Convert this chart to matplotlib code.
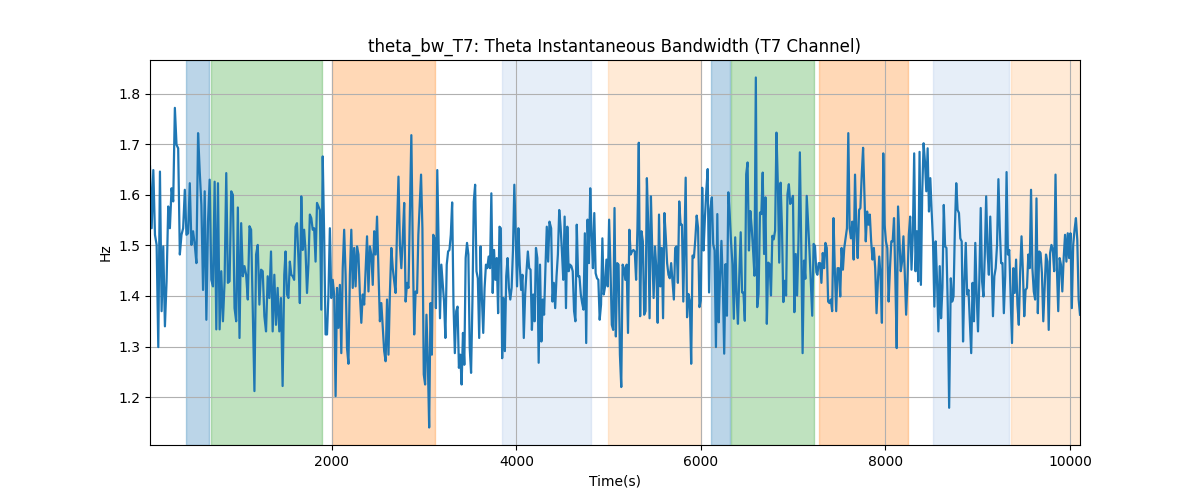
import numpy as np
import matplotlib
matplotlib.use("Agg")
import matplotlib.pyplot as plt

# Segment values (Hz), in time order
seg_a = [1.656, 1.534, 1.649, 1.521, 1.501, 1.299, 1.646, 1.370, 1.498, 1.340,
         1.429, 1.577, 1.534, 1.613, 1.587, 1.772, 1.699, 1.692, 1.482, 1.521,
         1.534, 1.610, 1.521, 1.524, 1.623, 1.501, 1.528, 1.501, 1.465, 1.722,
         1.646, 1.580, 1.412, 1.607, 1.353, 1.547, 1.630, 1.432, 1.419, 1.626,
         1.334, 1.623, 1.334, 1.449, 1.350, 1.429, 1.643, 1.426, 1.429, 1.607,
         1.600, 1.376, 1.350, 1.575, 1.317, 1.544, 1.439, 1.459, 1.442, 1.393,
         1.538, 1.531, 1.376, 1.212, 1.482, 1.501, 1.383, 1.452, 1.449, 1.360,
         1.330, 1.439, 1.396, 1.488, 1.330, 1.442, 1.343, 1.416, 1.330, 1.396,
         1.222, 1.442]
seg_b = [1.488, 1.403, 1.396, 1.468, 1.442, 1.439, 1.432, 1.537, 1.544, 1.475,
         1.386, 1.597, 1.491, 1.531, 1.488, 1.406, 1.462, 1.561, 1.554, 1.531,
         1.534, 1.468, 1.584, 1.577, 1.570, 1.373, 1.676, 1.521, 1.324, 1.324,
         1.403, 1.534, 1.396, 1.432, 1.403, 1.202, 1.416, 1.337, 1.422, 1.287,
         1.455, 1.531, 1.442, 1.297, 1.266, 1.442, 1.531, 1.416, 1.495, 1.419,
         1.498, 1.482, 1.403, 1.347, 1.403, 1.383, 1.449, 1.518, 1.409, 1.498,
         1.482, 1.422, 1.528, 1.482, 1.557, 1.449, 1.350, 1.386, 1.340, 1.291,
         1.271, 1.393, 1.284, 1.406, 1.495, 1.455, 1.429, 1.406, 1.534, 1.636,
         1.501, 1.455, 1.514, 1.584, 1.389, 1.426, 1.416, 1.567, 1.718, 1.495,
         1.324, 1.409, 1.406]
seg_c = [1.521, 1.580, 1.640, 1.534, 1.245, 1.225, 1.363, 1.271, 1.140, 1.386,
         1.284, 1.521, 1.514, 1.376, 1.649, 1.508, 1.356, 1.462, 1.426, 1.389,
         1.317, 1.462, 1.488, 1.491, 1.521, 1.585, 1.383, 1.287, 1.370, 1.379,
         1.258, 1.284, 1.225, 1.327, 1.264, 1.475, 1.505, 1.482, 1.297, 1.248,
         1.389, 1.587, 1.620, 1.449, 1.435, 1.317, 1.498, 1.396, 1.327, 1.416,
         1.462, 1.455, 1.478, 1.455, 1.603, 1.406, 1.491, 1.432, 1.475, 1.366,
         1.537, 1.534, 1.277, 1.396, 1.291, 1.439, 1.475, 1.416, 1.393, 1.416,
         1.491, 1.620, 1.521, 1.419, 1.534, 1.462, 1.412, 1.442, 1.317, 1.403,
         1.449, 1.488, 1.455, 1.452, 1.333, 1.403, 1.350, 1.495, 1.475, 1.268,
         1.462, 1.310, 1.393, 1.363, 1.455, 1.537, 1.468, 1.547]
seg_d = [1.534, 1.389, 1.426, 1.376, 1.439, 1.482, 1.570, 1.537, 1.488, 1.432,
         1.557, 1.376, 1.537, 1.449, 1.462, 1.459, 1.449, 1.370, 1.350, 1.541,
         1.439, 1.439, 1.403, 1.386, 1.373, 1.524, 1.307, 1.551, 1.465, 1.613,
         1.521, 1.455, 1.564, 1.445, 1.435, 1.432, 1.353, 1.383, 1.514, 1.403,
         1.419, 1.472, 1.419, 1.551, 1.455, 1.343, 1.333, 1.574, 1.320, 1.465,
         1.462, 1.284, 1.220, 1.462, 1.455, 1.432, 1.462, 1.327, 1.531, 1.482,
         1.488, 1.491, 1.488, 1.432, 1.534, 1.703, 1.360, 1.528, 1.508, 1.363,
         1.370, 1.633, 1.541, 1.356, 1.597, 1.488, 1.396, 1.498, 1.455, 1.347,
         1.561, 1.419, 1.495, 1.356, 1.564, 1.518, 1.465, 1.442, 1.435, 1.465,
         1.429, 1.393, 1.495, 1.498, 1.426, 1.587, 1.541, 1.541, 1.389]
seg_e = [1.490, 1.634, 1.358, 1.404, 1.391, 1.266, 1.480, 1.476, 1.512, 1.559,
         1.535, 1.378, 1.391, 1.614, 1.490, 1.555, 1.608, 1.651, 1.407, 1.572,
         1.595, 1.503, 1.490, 1.299, 1.562, 1.348, 1.437, 1.509, 1.424, 1.286,
         1.463, 1.361, 1.605, 1.562, 1.506, 1.463, 1.355, 1.516, 1.404, 1.345,
         1.443, 1.526, 1.407, 1.407, 1.351, 1.641, 1.664, 1.490, 1.568, 1.535,
         1.490, 1.440, 1.832, 1.378, 1.404, 1.565, 1.562, 1.644, 1.483, 1.595,
         1.345, 1.466, 1.463, 1.401, 1.519, 1.512, 1.529, 1.723, 1.621, 1.466,
         1.624, 1.535, 1.388, 1.430, 1.401, 1.601, 1.621, 1.582, 1.588, 1.598,
         1.368, 1.483, 1.401, 1.509, 1.684, 1.503, 1.287, 1.470, 1.434, 1.598,
         1.542, 1.490, 1.424, 1.361, 1.503, 1.499, 1.447]
seg_f = [1.442, 1.465, 1.465, 1.426, 1.485, 1.455, 1.505, 1.495, 1.389, 1.386,
         1.393, 1.370, 1.554, 1.449, 1.370, 1.455, 1.455, 1.399, 1.495, 1.452,
         1.495, 1.514, 1.534, 1.722, 1.534, 1.514, 1.547, 1.472, 1.640, 1.528,
         1.475, 1.570, 1.574, 1.640, 1.693, 1.600, 1.508, 1.567, 1.541, 1.561,
         1.508, 1.472, 1.495, 1.455, 1.366, 1.429, 1.478, 1.439, 1.347, 1.682,
         1.541, 1.508, 1.495, 1.389, 1.455, 1.508, 1.508, 1.554, 1.432, 1.297,
         1.577, 1.514, 1.449, 1.468, 1.518, 1.445, 1.363, 1.429, 1.521, 1.557,
         1.452, 1.521, 1.682, 1.449, 1.528, 1.429, 1.685, 1.422, 1.607, 1.702,
         1.666, 1.607, 1.692, 1.567, 1.633, 1.567, 1.508, 1.379, 1.508, 1.429,
         1.330, 1.459, 1.356, 1.416, 1.580, 1.498, 1.495, 1.376, 1.179]
seg_g = [1.435, 1.389, 1.399, 1.534, 1.623, 1.570, 1.564, 1.514, 1.508, 1.310,
         1.429, 1.505, 1.403, 1.412, 1.350, 1.287, 1.426, 1.350, 1.505, 1.403,
         1.330, 1.435, 1.574, 1.429, 1.399, 1.482, 1.597, 1.488, 1.442, 1.557,
         1.468, 1.360, 1.439, 1.455, 1.501, 1.631, 1.534, 1.465, 1.465, 1.366,
         1.439, 1.645, 1.482, 1.491, 1.396, 1.307, 1.455, 1.406, 1.472, 1.383,
         1.343, 1.449, 1.518, 1.449, 1.360, 1.412, 1.416, 1.482, 1.455, 1.610,
         1.455, 1.409, 1.393, 1.593, 1.366, 1.488, 1.485, 1.445, 1.350, 1.416,
         1.482, 1.468, 1.333, 1.485, 1.501, 1.491, 1.449, 1.640, 1.455, 1.370,
         1.475, 1.462, 1.409, 1.475, 1.521, 1.468, 1.524, 1.475, 1.524, 1.376,
         1.501, 1.531, 1.554, 1.511, 1.393, 1.363]

segments = [seg_a, seg_b, seg_c, seg_d, seg_e, seg_f, seg_g]
# Start/end time (s) of each segment
segment_times = [(30, 1485), (1499, 2924), (2938, 4359), (4377, 5809),
                 (5820, 7251), (7262, 8690), (8708, 10108)]

# Shaded intervals (start, end, colour)
span_starts = [422, 693, 2005, 3840, 4989, 6106, 6323, 7277, 8514, 9360]
span_ends = [671, 1897, 3123, 4805, 5997, 6312, 7223, 8243, 9338, 10108]
span_colors = ["tab:blue", "tab:green", "tab:orange", "#aec7e8", "#ffbb78",
               "tab:blue", "tab:green", "tab:orange", "#aec7e8", "#ffbb78"]

time = np.concatenate([np.linspace(a, b, len(s)) for (a, b), s in zip(segment_times, segments)])
values = np.concatenate([np.array(s) for s in segments])

fig, ax = plt.subplots(figsize=(12, 5), dpi=100)
for s, e, c in zip(span_starts, span_ends, span_colors):
    ax.axvspan(s, e, color=c, alpha=0.3)
ax.plot(time, values, color="tab:blue", linewidth=1.6)
ax.set_xlim(time.min(), time.max())
ax.grid(True)
ax.set_title("theta_bw_T7: Theta Instantaneous Bandwidth (T7 Channel)")
ax.set_xlabel("Time(s)")
ax.set_ylabel("Hz")
fig.savefig("out.png")
